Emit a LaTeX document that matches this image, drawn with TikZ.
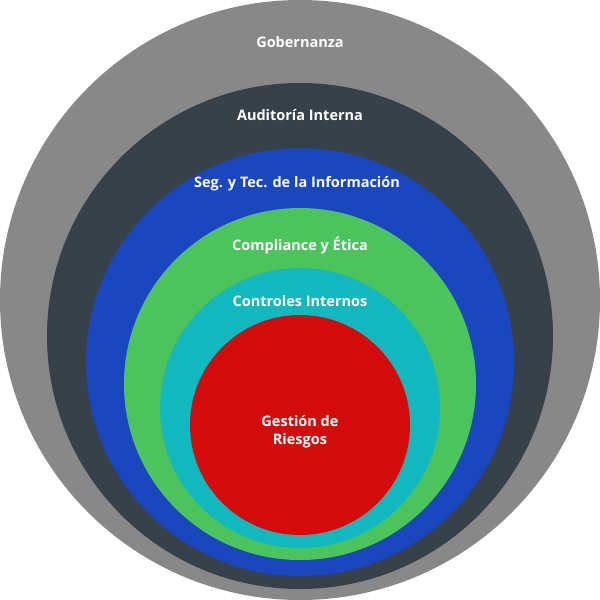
\documentclass[tikz,border=0pt]{standalone}
\usepackage{fontspec}
\setmainfont{Open Sans}
\begin{document}
\begin{tikzpicture}[x=1pt,y=-1pt,
  ring/.style={circle,draw=none,inner sep=0pt},
  lbl/.style={text=white,font=\bfseries\fontsize{14.5}{18}\selectfont,align=center}]
\useasboundingbox (0,0) rectangle (600,600);
\definecolor{cg}{HTML}{888888}
\definecolor{cd}{HTML}{37414A}
\definecolor{cb}{HTML}{1A46BE}
\definecolor{cgr}{HTML}{4CC45E}
\definecolor{ct}{HTML}{11B8BD}
\definecolor{cr}{HTML}{D40B0B}
\node[ring,fill=cg,minimum size=600pt] (g) at (300,300) {};
\node[ring,fill=cd,minimum size=506pt] (a) at (300,336) {};
\node[ring,fill=cb,minimum size=428pt] (s) at (300,362) {};
\node[ring,fill=cgr,minimum size=352pt] (c) at (300,384) {};
\node[ring,fill=ct,minimum size=280pt] (i) at (300,408) {};
\node[ring,fill=cr,minimum size=220pt] (r) at (300,425) {};
\node[lbl] (tg) at (300,42) {Gobernanza};
\node[lbl] (ta) at (300,115) {Auditoría Interna};
\node[lbl] (ts) at (297,184) {Seg. y Tec. de la Información};
\node[lbl] (tc) at (300,245) {Compliance y Ética};
\node[lbl] (ti) at (300,301) {Controles Internos};
\node[lbl] (tr) at (300,432) {Gestión de\\Riesgos};
\end{tikzpicture}
\end{document}
